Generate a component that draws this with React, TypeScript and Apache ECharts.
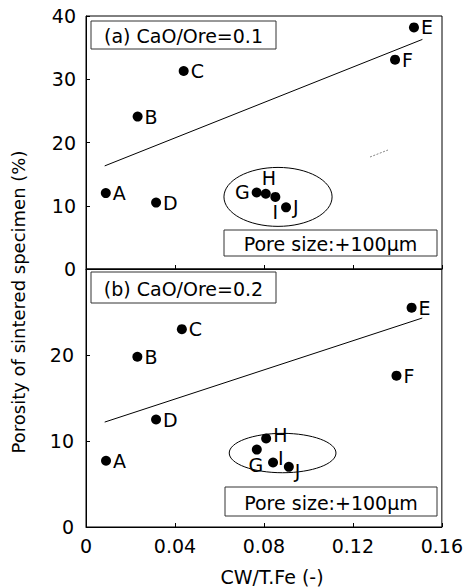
import React, { useEffect, useRef } from "react";
import * as echarts from "echarts";

const names = ["A", "B", "C", "D", "E", "F", "G", "H", "I", "J"];
const cwA = [0.0089, 0.0232, 0.0439, 0.0315, 0.1474, 0.1389, 0.0767, 0.0808, 0.0851, 0.0899];
const porosityA = [12.0, 24.1, 31.3, 10.5, 38.2, 33.1, 12.1, 11.9, 11.4, 9.75];
const cwB = [0.009, 0.0231, 0.0431, 0.0315, 0.1464, 0.1396, 0.0768, 0.081, 0.0841, 0.0912];
const porosityB = [7.7, 19.8, 23.0, 12.5, 25.5, 17.6, 9.0, 10.3, 7.5, 7.0];

const fitX = [0.0084, 0.1512];
const fitA = [16.3, 36.3];
const fitB = [12.2, 24.3];

// ellipse enclosing G-J: [cx, cy, rx, ry] in data units
const ellipseA = [0.0863, 11.4, 0.0243, 4.66];
const ellipseB = [0.0884, 8.6, 0.024, 2.29];

const xTicks = [0, 0.04, 0.08, 0.12, 0.16];
const titleA = "(a) CaO/Ore=0.1";
const titleB = "(b) CaO/Ore=0.2";
const poreText = "Pore size:+100\u03bcm";
const yTitle = "Porosity of sintered specimen (%)";
const xTitle = "CW/T.Fe (-)";

const FONT = "'DejaVu Sans', 'Liberation Sans', Arial, sans-serif";
const FS = 19;

type LP = { position: any; offset?: number[] };
const labelPosA: LP[] = [
  { position: "right" }, { position: "right" }, { position: "right" }, { position: "right" },
  { position: "right" }, { position: "right" }, { position: "left", offset: [0, 0] },
  { position: "top", offset: [3, 1] }, { position: "bottom", offset: [0, -1] }, { position: "right" },
];
const labelPosB: LP[] = [
  { position: "right" }, { position: "right" }, { position: "right" }, { position: "right" },
  { position: "right" }, { position: "right" }, { position: "bottom", offset: [-1, -1] },
  { position: "right", offset: [0, -3] }, { position: "right", offset: [-2, -5] }, { position: "right", offset: [-1, 4] },
];

function pts(xs: number[], ys: number[], lp: LP[]) {
  return xs.map((x, i) => ({
    value: [x, ys[i]],
    name: names[i],
    label: { position: lp[i].position, offset: lp[i].offset || [0, 0] },
  }));
}

function ellipseSeries(idx: number, e: number[]) {
  return {
    type: "custom",
    xAxisIndex: idx,
    yAxisIndex: idx,
    silent: true,
    data: [e],
    renderItem: (params: any, api: any) => {
      const c = api.coord([api.value(0), api.value(1)]);
      const s = api.size([api.value(2), api.value(3)]);
      return {
        type: "ellipse",
        shape: { cx: c[0], cy: c[1], rx: s[0], ry: s[1] },
        style: { fill: "none", stroke: "#000", lineWidth: 1 },
      };
    },
  };
}

function boxText(x: number, y: number, w: number, h: number, text: string) {
  return {
    type: "group",
    children: [
      { type: "rect", shape: { x, y, width: w, height: h }, style: { fill: "#fff", stroke: "#333", lineWidth: 1 } },
      {
        type: "text",
        x: x + w / 2,
        y: y + h / 2 + 1,
        style: { text, fontSize: FS, fontFamily: FONT, fill: "#000", align: "center", verticalAlign: "middle" },
      },
    ],
  };
}

export default function App() {
  const ref = useRef<HTMLDivElement>(null);
  useEffect(() => {
    document.body.style.margin = "0";
    const chart = echarts.init(ref.current!, null, { renderer: "svg" });
    const axisLine = { show: true, lineStyle: { color: "#000", width: 1 } };
    const tick = { show: true, inside: true, length: 4, lineStyle: { color: "#000" } };
    const scatterCommon = {
      type: "scatter",
      symbol: "circle",
      symbolSize: 10,
      itemStyle: { color: "#000", opacity: 1 },
      label: { show: true, formatter: "{b}", fontSize: FS, fontFamily: FONT, color: "#000", distance: 2 },
    };
    const lineCommon = {
      type: "line",
      symbol: "none",
      lineStyle: { color: "#000", width: 1 },
      silent: true,
    };
    chart.setOption({
      animation: false,
      textStyle: { fontFamily: FONT },
      grid: [
        { left: 86, top: 16, width: 356, height: 253, show: true, borderColor: "#000", borderWidth: 1 },
        { left: 86, top: 269, width: 356, height: 258, show: true, borderColor: "#000", borderWidth: 1 },
      ],
      xAxis: [
        {
          gridIndex: 0, type: "value", min: 0, max: 0.16, interval: 0.04,
          axisLine, axisTick: tick, axisLabel: { show: false }, splitLine: { show: false },
        },
        {
          gridIndex: 1, type: "value", min: 0, max: 0.16, interval: 0.04,
          axisLine, axisTick: tick, splitLine: { show: false },
          axisLabel: {
            fontSize: FS, color: "#000", margin: 9, fontFamily: FONT,
            formatter: (v: number) => (xTicks.indexOf(v) === 0 ? "0" : v.toFixed(2)),
          },
        },
      ],
      yAxis: [
        {
          gridIndex: 0, type: "value", min: 0, max: 40, interval: 10,
          axisLine, axisTick: tick, splitLine: { show: false },
          axisLabel: { fontSize: FS, color: "#000", margin: 10, fontFamily: FONT },
        },
        {
          gridIndex: 1, type: "value", min: 0, max: 30, interval: 10,
          axisLine, axisTick: tick, splitLine: { show: false },
          axisLabel: {
            fontSize: FS, color: "#000", margin: 12, fontFamily: FONT,
            formatter: (v: number) => (v >= 30 ? "" : String(v)),
          },
        },
      ],
      series: [
        { ...lineCommon, xAxisIndex: 0, yAxisIndex: 0, data: fitX.map((x, i) => [x, fitA[i]]) },
        { ...lineCommon, xAxisIndex: 1, yAxisIndex: 1, data: fitX.map((x, i) => [x, fitB[i]]) },
        ellipseSeries(0, ellipseA),
        ellipseSeries(1, ellipseB),
        { ...scatterCommon, xAxisIndex: 0, yAxisIndex: 0, data: pts(cwA, porosityA, labelPosA) },
        { ...scatterCommon, xAxisIndex: 1, yAxisIndex: 1, data: pts(cwB, porosityB, labelPosB) },
      ],
      graphic: [
        boxText(91, 21, 185, 28, titleA),
        boxText(91, 272, 185, 31, titleB),
        boxText(224, 230, 213, 26, poreText),
        boxText(225, 487, 212, 29, poreText),
        {
          type: "line",
          shape: { x1: 370, y1: 157, x2: 388, y2: 150 },
          style: { stroke: "#666", lineWidth: 0.8, lineDash: [2, 1.5] },
          silent: true,
        },
        {
          type: "text",
          x: 18,
          y: 302,
          rotation: Math.PI / 2,
          style: { text: yTitle, fontSize: 18, fontFamily: FONT, fill: "#000", align: "center", verticalAlign: "middle" },
        },
        {
          type: "text",
          x: 272,
          y: 577,
          style: { text: xTitle, fontSize: 19, fontFamily: FONT, fill: "#000", align: "center", verticalAlign: "middle" },
        },
      ],
    });
    return () => chart.dispose();
  }, []);
  return <div ref={ref} style={{ width: 466, height: 588 }} />;
}
